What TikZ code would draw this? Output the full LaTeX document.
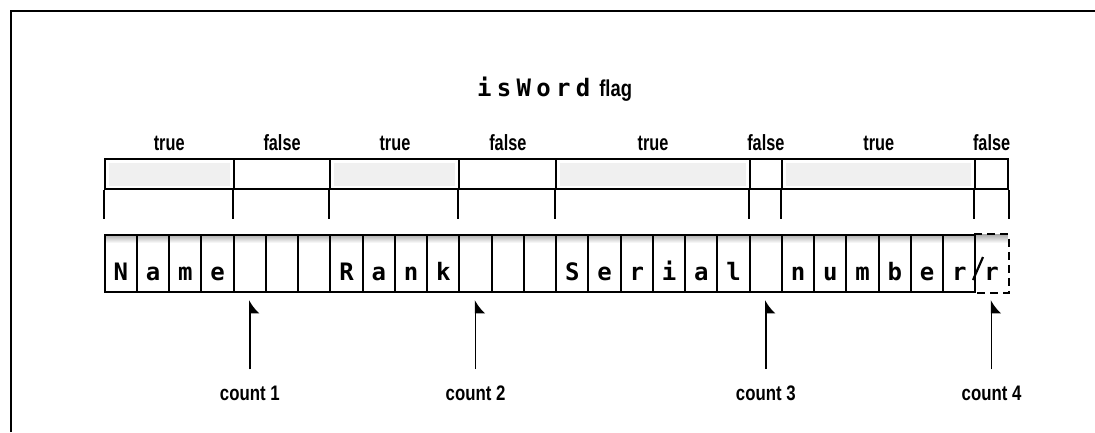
\documentclass[tikz,border=0pt]{standalone}
\usepackage{fontspec}
\usepackage{graphicx}
\usetikzlibrary{arrows.meta}
\newfontfamily\cellfont{DejaVu Sans Mono}
\newfontfamily\titlefont[LetterSpace=22]{DejaVu Sans Mono}
\newfontfamily\labfont{Liberation Sans}
\newcommand\narrow[2]{\scalebox{#1}[1]{#2}}
\tikzset{
  cell/.style={draw, line width=2pt, minimum width=32.25pt, minimum height=57pt,
    inner sep=0pt, text height=33pt, text depth=0pt,
    font={\cellfont\bfseries\fontsize{24pt}{24pt}\selectfont}},
  seg/.style={draw, line width=2pt, minimum height=30pt, inner sep=0pt},
  tf/.style={anchor=base, inner sep=0pt, font={\labfont\bfseries\fontsize{22pt}{22pt}\selectfont}},
  cnt/.style={anchor=base, inner sep=0pt, font={\labfont\bfseries\fontsize{21pt}{21pt}\selectfont}},
  arr/.style={line width=1.6pt, -{Latex[right,length=12pt,width=20pt]}},
  tick/.style={line width=2pt},
}
\begin{document}
\begin{tikzpicture}[x=1pt,y=-1pt]
\useasboundingbox (0,0) rectangle (1095,432);
% frame
\draw[line width=2pt] (11,432) -- (11,11) -- (1095,11);
% title
\node[anchor=base west, inner sep=0pt] (title) at (477,96)
  {{\titlefont\bfseries\fontsize{24pt}{24pt}\selectfont isWord}\hspace{9pt}{\labfont\bfseries\fontsize{23pt}{23pt}\selectfont\narrow{0.8}{flag}}};
% flag segments: boundaries 0,4,7,11,14,20,21,27,28
\def\xo{104.7}\def\w{32.25}
\foreach \a/\b [count=\k] in {0/4,7/11,14/20,21/27}{
  \fill[gray!12] ({\xo+\a*\w+4},163) rectangle ({\xo+\b*\w-4},186);
}
\foreach \a/\b/\t [count=\k] in {0/4/true,4/7/false,7/11/true,11/14/false,14/20/true,20/21/false,21/27/true,27/28/false}{
  \node[seg, minimum width={(\b-\a)*\w*1pt}] (s\k) at ({\xo+(\a+\b)/2*\w},174) {};
  \node[tf] (l\k) at ({\xo+(\a+\b)/2*\w},150) {\narrow{0.74}{\t}};
  \draw[tick] (s\k.south west) -- ++(0,29);
}
\draw[tick] (s8.south east) -- ++(0,29);
% cell shading
\shade[top color=gray!70, bottom color=white] (\xo,234) rectangle ({\xo+28*\w},243);
% cells
\foreach \ch [count=\i from 0] in {N,a,m,e,{},{},{},R,a,n,k,{},{},{},S,e,r,i,a,l,{},n,u,m,b,e,r}{
  \node[cell] (c\i) at ({\xo+(\i+0.5)*\w},263.5) {\ch};
}
\node[cell, draw=none] (c27) at ({\xo+27.5*\w},263.5) {r};
\draw[line width=1.6pt, dashed, dash pattern=on 8pt off 5pt] (c27.north west) -- (c27.north east) -- (c27.south east) -- (c27.south west);
\draw[line width=2.2pt] (973,280) -- (983,257);
% counts and arrows
\foreach \c/\n in {4/1,11/2,20/3,27/4}{
  \node[cnt] (n\n) at (c\c.south |- 0,400) {\narrow{0.8}{count \n}};
  \draw[arr, shorten <=16pt, shorten >=7pt] (n\n.north) -- (c\c.south);
}
\end{tikzpicture}
\end{document}
